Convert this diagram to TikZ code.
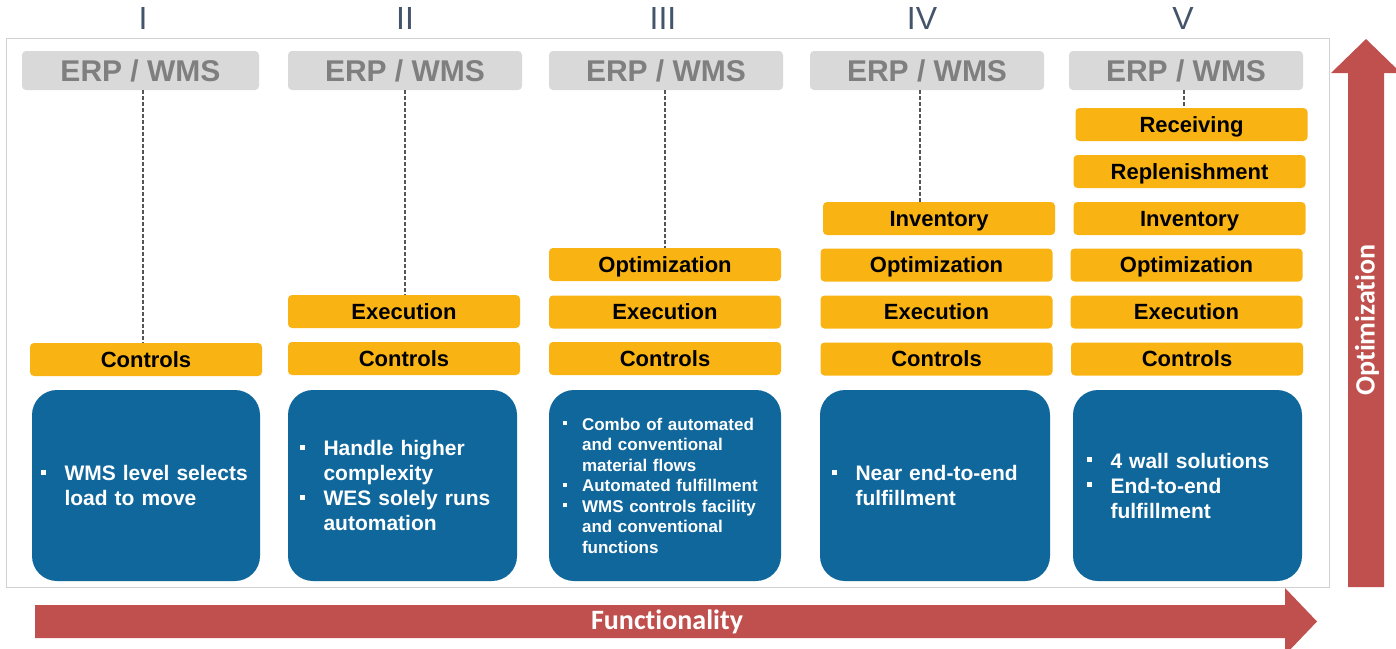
\documentclass[tikz,border=0pt]{standalone}
\usepackage{fontspec}
\setmainfont{Liberation Sans}
\newfontfamily\calfont[Ligatures={NoCommon,NoContextual}]{Carlito}
\definecolor{erpgray}{HTML}{D9D9D9}
\definecolor{erptext}{HTML}{7F7F7F}
\definecolor{amber}{HTML}{F9B414}
\definecolor{steel}{HTML}{0F679C}
\definecolor{brick}{HTML}{C0504D}
\definecolor{slate}{HTML}{44546A}
\definecolor{dashgray}{HTML}{555555}
\newcommand{\bitem}[1]{\hangindent=1.12em\hangafter=1\noindent\makebox[1.12em][l]{\rule[0.27em]{0.25em}{0.25em}}#1\par}
\tikzset{
  numeral/.style={text=slate, font=\fontsize{32}{32}\selectfont, inner sep=0pt},
  erp/.style={fill=erpgray, rounded corners=4pt, minimum width=234pt, minimum height=39pt, inner sep=0pt,
    text=erptext, font=\fontsize{30}{30}\selectfont\bfseries, text height=21.5pt, text depth=0pt},
  layer/.style={fill=amber, rounded corners=4pt, minimum width=232pt, minimum height=33pt, inner sep=0pt,
    text=black, font=\fontsize{22}{22}\selectfont\bfseries, text height=15.8pt, text depth=0pt},
  infobox/.style={fill=steel, rounded corners=25pt, minimum height=191pt, text=white, align=left,
    inner ysep=0pt, font=\fontsize{21}{25}\selectfont\bfseries},
  link/.style={draw=dashgray, line width=1.9pt, dash pattern=on 4pt off 2pt},
  axislabel/.style={text=white, font=\calfont\fontsize{28}{28}\selectfont\bfseries, inner sep=0pt},
}
\begin{document}
\begin{tikzpicture}[x=1pt,y=-1pt]
\useasboundingbox (0,0) rectangle (1396,648);
% panel
\draw[draw=black!18, line width=0.8pt, fill=white] (6,38) rectangle (1329,587);
% arrows
\fill[brick] (35,605) -- (1285,605) -- (1285,588) -- (1317,621.5) -- (1285,655) -- (1285,638) -- (35,638) -- cycle;
\fill[brick] (1348,587) -- (1348,73) -- (1331,73) -- (1366,39) -- (1401,73) -- (1384,73) -- (1384,587) -- cycle;
\node[axislabel] (func) at (667,622) {Functionality};
\node[axislabel, rotate=90] (optim) at (1367,320) {Optimization};
% numerals
\node[numeral] (n1) at (143,18) {I};
\node[numeral] (n2) at (405,18) {II};
\node[numeral] (n3) at (663,18) {III};
\node[numeral] (n4) at (922,18) {IV};
\node[numeral] (n5) at (1183,18) {V};
% column I
\node[erp, minimum width=237pt] (erp1) at (140.5,70.5) {ERP / WMS};
\node[layer] (c1) at (146,359.5) {Controls};
\node[infobox, minimum width=228pt, inner xsep=9pt, text width=210pt] (b1) at (146,485.5)
  {\bitem{WMS level selects\newline load to move}};
\draw[link] ([xshift=2.5pt]erp1.south) -- ([xshift=2.5pt]erp1.south |- c1.north);
% column II
\node[erp] (erp2) at (405,70.5) {ERP / WMS};
\node[layer] (e2) at (404,311.5) {Execution};
\node[layer] (c2) at (404,358.5) {Controls};
\node[infobox, minimum width=229pt, inner xsep=12pt, text width=205pt] (b2) at (402.5,485.5)
  {\bitem{Handle higher\newline complexity}\bitem{WES solely runs\newline automation}};
\draw[link] (erp2.south) -- (erp2.south |- e2.north);
% column III
\node[erp] (erp3) at (666,70.5) {ERP / WMS};
\node[layer] (o3) at (665,264.5) {Optimization};
\node[layer] (e3) at (665,312) {Execution};
\node[layer] (c3) at (665,358.5) {Controls};
\node[infobox, minimum width=232pt, inner xsep=14pt, text width=204pt, font=\fontsize{17}{20.5}\selectfont\bfseries] (b3) at (665,485.5)
  {\bitem{Combo of automated\newline and conventional\newline material flows}\bitem{Automated fulfillment}\bitem{WMS controls facility\newline and conventional\newline functions}};
\draw[link] ([xshift=-1pt]erp3.south) -- ([xshift=-1pt]erp3.south |- o3.north);
% column IV
\node[erp] (erp4) at (927,70.5) {ERP / WMS};
\node[layer] (i4) at (939,218.5) {Inventory};
\node[layer] (o4) at (936.5,265) {Optimization};
\node[layer] (e4) at (936.5,312) {Execution};
\node[layer] (c4) at (936.5,359) {Controls};
\node[infobox, minimum width=230pt, inner xsep=12pt, text width=206pt] (b4) at (935,485.5)
  {\bitem{Near end-to-end\newline fulfillment}};
\draw[link] ([xshift=-7pt]erp4.south) -- ([xshift=-7pt]erp4.south |- i4.north);
% column V
\node[erp] (erp5) at (1186,70.5) {ERP / WMS};
\node[layer] (r5) at (1191.5,124.5) {Receiving};
\node[layer] (rp5) at (1189.5,171.5) {Replenishment};
\node[layer] (i5) at (1189.5,218.5) {Inventory};
\node[layer] (o5) at (1186.5,265) {Optimization};
\node[layer] (e5) at (1186.5,312) {Execution};
\node[layer] (c5) at (1187,359) {Controls};
\node[infobox, minimum width=229pt, inner xsep=14pt, text width=201pt] (b5) at (1187.5,485.5)
  {\bitem{4 wall solutions}\bitem{End-to-end\newline fulfillment}};
\draw[link] ([xshift=-2pt]erp5.south) -- ([xshift=-2pt]erp5.south |- r5.north);
\end{tikzpicture}
\end{document}
